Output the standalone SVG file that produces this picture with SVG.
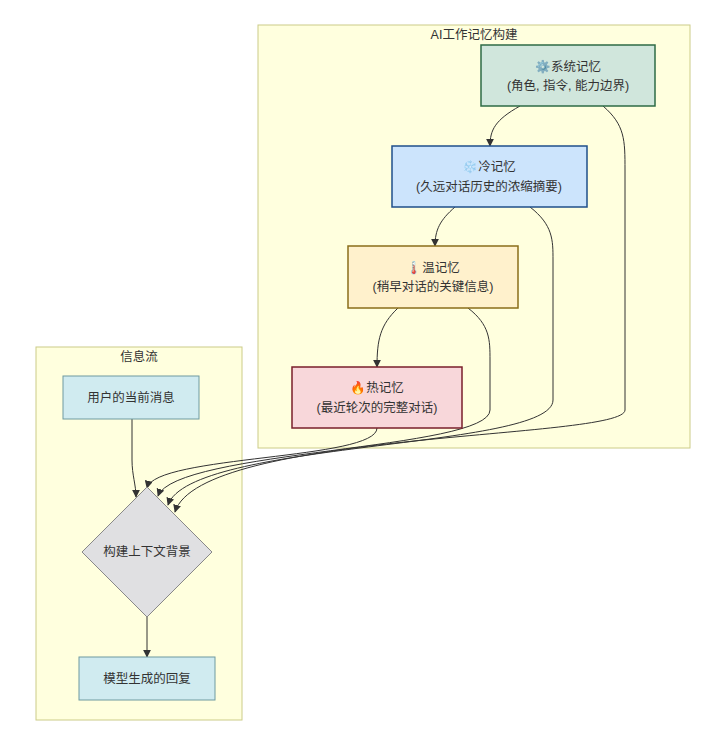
<svg xmlns="http://www.w3.org/2000/svg" width="724" height="742" viewBox="0 0 724 742">
<style>
text{font-family:"Liberation Sans","Noto Sans CJK SC",sans-serif;font-size:12.5px;fill:#333;text-anchor:middle}
.cl{fill:#ffffde;stroke:#cccc88;stroke-width:1}
.e{fill:none;stroke:#333;stroke-width:1}
</style>
<defs><marker id="a" viewBox="0 0 10 10" refX="9" refY="5" markerWidth="8" markerHeight="8" orient="auto"><path d="M0,0L10,5L0,10z" fill="#333"/></marker></defs>
<rect width="724" height="742" fill="#fff"/>
<g id="cluster-ai"><rect class="cl" x="258" y="25" width="432" height="423"/><text x="474" y="39">AI工作记忆构建</text></g>
<g id="cluster-flow"><rect class="cl" x="36" y="347" width="206" height="373"/><text x="139" y="361">信息流</text></g>
<g id="edges">
<path class="e" marker-end="url(#a)" d="M520,106C495,120 490,130 490,146"/>
<path class="e" marker-end="url(#a)" d="M603,106C625,125 625,140 625,170L625,410C625,440 200,430 175,512"/>
<path class="e" marker-end="url(#a)" d="M455,207C440,220 435,230 435,246"/>
<path class="e" marker-end="url(#a)" d="M530,207C553,225 553,240 553,260L553,400C553,450 190,440 168,505"/>
<path class="e" marker-end="url(#a)" d="M398,308C380,325 377,340 377,367"/>
<path class="e" marker-end="url(#a)" d="M468,308C490,325 490,340 490,360L490,410C490,450 175,450 158,496"/>
<path class="e" marker-end="url(#a)" d="M377,428C377,460 155,455 147,488"/>
<path class="e" marker-end="url(#a)" d="M132,419L132,460C132,475 136,485 136,497"/>
<path class="e" marker-end="url(#a)" d="M147,617L147,657"/>
</g>
<g id="sys"><rect x="481" y="45" width="174" height="61" fill="#d0e6dc" stroke="#2e6b46" stroke-width="1.5"/><text x="568" y="71">⚙️系统记忆</text><text x="568" y="90">(角色, 指令, 能力边界)</text></g>
<g id="cold"><rect x="392" y="146" width="195" height="61" fill="#cce4fc" stroke="#1f4f8a" stroke-width="1.5"/><text x="489" y="171">❄️冷记忆</text><text x="489" y="191">(久远对话历史的浓缩摘要)</text></g>
<g id="warm"><rect x="348" y="246" width="170" height="62" fill="#fff1cc" stroke="#8a6d1a" stroke-width="1.5"/><text x="433" y="272">🌡️温记忆</text><text x="433" y="291">(稍早对话的关键信息)</text></g>
<g id="hot"><rect x="292" y="367" width="170" height="61" fill="#f8d7da" stroke="#7a1f2b" stroke-width="1.5"/><text x="377" y="392">🔥热记忆</text><text x="377" y="412">(最近轮次的完整对话)</text></g>
<g id="user"><rect x="63" y="376" width="136" height="43" fill="#d0ebf0" stroke="#6f9aa0" stroke-width="1"/><text x="131" y="402">用户的当前消息</text></g>
<g id="build"><path d="M147,487L212,552L147,617L82,552z" fill="#e0e0e2" stroke="#888" stroke-width="1"/><text x="147" y="556">构建上下文背景</text></g>
<g id="reply"><rect x="79" y="657" width="136" height="43" fill="#d0ebf0" stroke="#6f9aa0" stroke-width="1"/><text x="147" y="683">模型生成的回复</text></g>
</svg>
